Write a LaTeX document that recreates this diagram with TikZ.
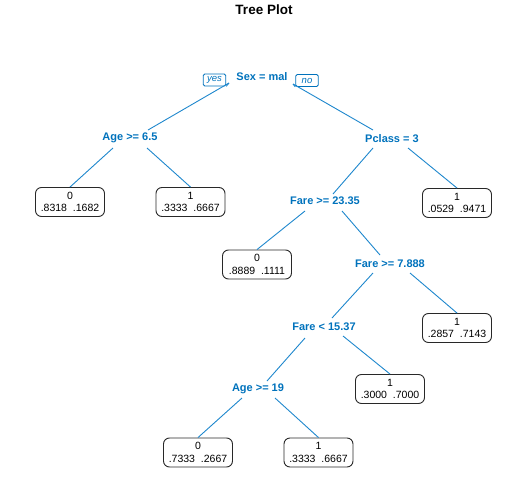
\documentclass[tikz,border=0pt]{standalone}
\usepackage{fontspec}
\setmainfont{Liberation Sans}
\definecolor{splitblue}{RGB}{0,114,188}
\definecolor{linkblue}{RGB}{30,135,205}
\definecolor{leafgray}{RGB}{40,40,40}
\begin{document}
\begin{tikzpicture}[x=1pt,y=-1pt,
  split/.style={font=\bfseries\fontsize{11}{13}\selectfont, text=splitblue, inner sep=0pt},
  leaf/.style={draw=leafgray, line width=0.9pt, rounded corners=6pt, minimum width=69pt, minimum height=29pt, align=center, font=\fontsize{10.5}{12.5}\selectfont, inner sep=0pt},
  br/.style={draw=linkblue, line width=0.9pt},
  yn/.style={draw=splitblue, line width=0.8pt, font=\itshape\fontsize{9.5}{10}\selectfont, text=splitblue, rounded corners=1.5pt, inner xsep=2.5pt, inner ysep=1pt, minimum height=12pt, minimum width=22.5pt}
]
\useasboundingbox (0,0) rectangle (528,498);
\node[font=\bfseries\fontsize{13.5}{15}\selectfont] (title) at (264,10) {Tree Plot};

% split nodes
\node[split] (sex) at (262,77) {Sex = mal};
\node[split] (age) at (130,138) {Age >= 6.5};
\node[split] (pclass) at (392,139) {Pclass = 3};
\node[split] (fare1) at (325,201) {Fare >= 23.35};
\node[split] (fare2) at (390,264) {Fare >= 7.888};
\node[split] (fare3) at (324,327) {Fare < 15.37};
\node[split] (age2) at (258,389) {Age >= 19};

% leaves
\node[leaf] (la0) at (70,202) {0\\.8318\ \ .1682};
\node[leaf] (la1) at (190.5,202) {1\\.3333\ \ .6667};
\node[leaf] (lp) at (457,203) {1\\.0529\ \ .9471};
\node[leaf] (lf0) at (257,264.5) {0\\.8889\ \ .1111};
\node[leaf] (lf2) at (457,328) {1\\.2857\ \ .7143};
\node[leaf] (lf3) at (390,389) {1\\.3000\ \ .7000};
\node[leaf] (la20) at (198,452.5) {0\\.7333\ \ .2667};
\node[leaf] (la21) at (318.5,452.5) {1\\.3333\ \ .6667};

% yes / no tags
\node[yn] (yes) at (214.5,80) {yes};
\node[yn] (no) at (307,80.5) {no};

% branches
\draw[br] ([shift={(-33,6)}]sex.center) -- ([shift={(18,-8)}]age.center);
\draw[br] ([shift={(31,7)}]sex.center) -- ([shift={(-19,-9)}]pclass.center);
\draw[br] (yes.south east) -- ([shift={(-33,6)}]sex.center);
\draw[br] (no.south west) -- ([shift={(31,7)}]sex.center);
\draw[br] ([shift={(-17,10)}]age.center) -- (la0.north);
\draw[br] ([shift={(17,10)}]age.center) -- (la1.north);
\draw[br] ([shift={(-19,9)}]pclass.center) -- ([shift={(8,-7)}]fare1.center);
\draw[br] ([shift={(16,9)}]pclass.center) -- (lp.north);
\draw[br] ([shift={(-20,10)}]fare1.center) -- (lf0.north);
\draw[br] ([shift={(17,10)}]fare1.center) -- ([shift={(-10,-9)}]fare2.center);
\draw[br] ([shift={(-17,9)}]fare2.center) -- ([shift={(8,-9)}]fare3.center);
\draw[br] ([shift={(20,9)}]fare2.center) -- (lf2.north);
\draw[br] ([shift={(-19,11)}]fare3.center) -- ([shift={(9,-8)}]age2.center);
\draw[br] ([shift={(19,9)}]fare3.center) -- (lf3.north);
\draw[br] ([shift={(-16,9)}]age2.center) -- (la20.north);
\draw[br] ([shift={(17,9)}]age2.center) -- (la21.north);
\end{tikzpicture}
\end{document}
